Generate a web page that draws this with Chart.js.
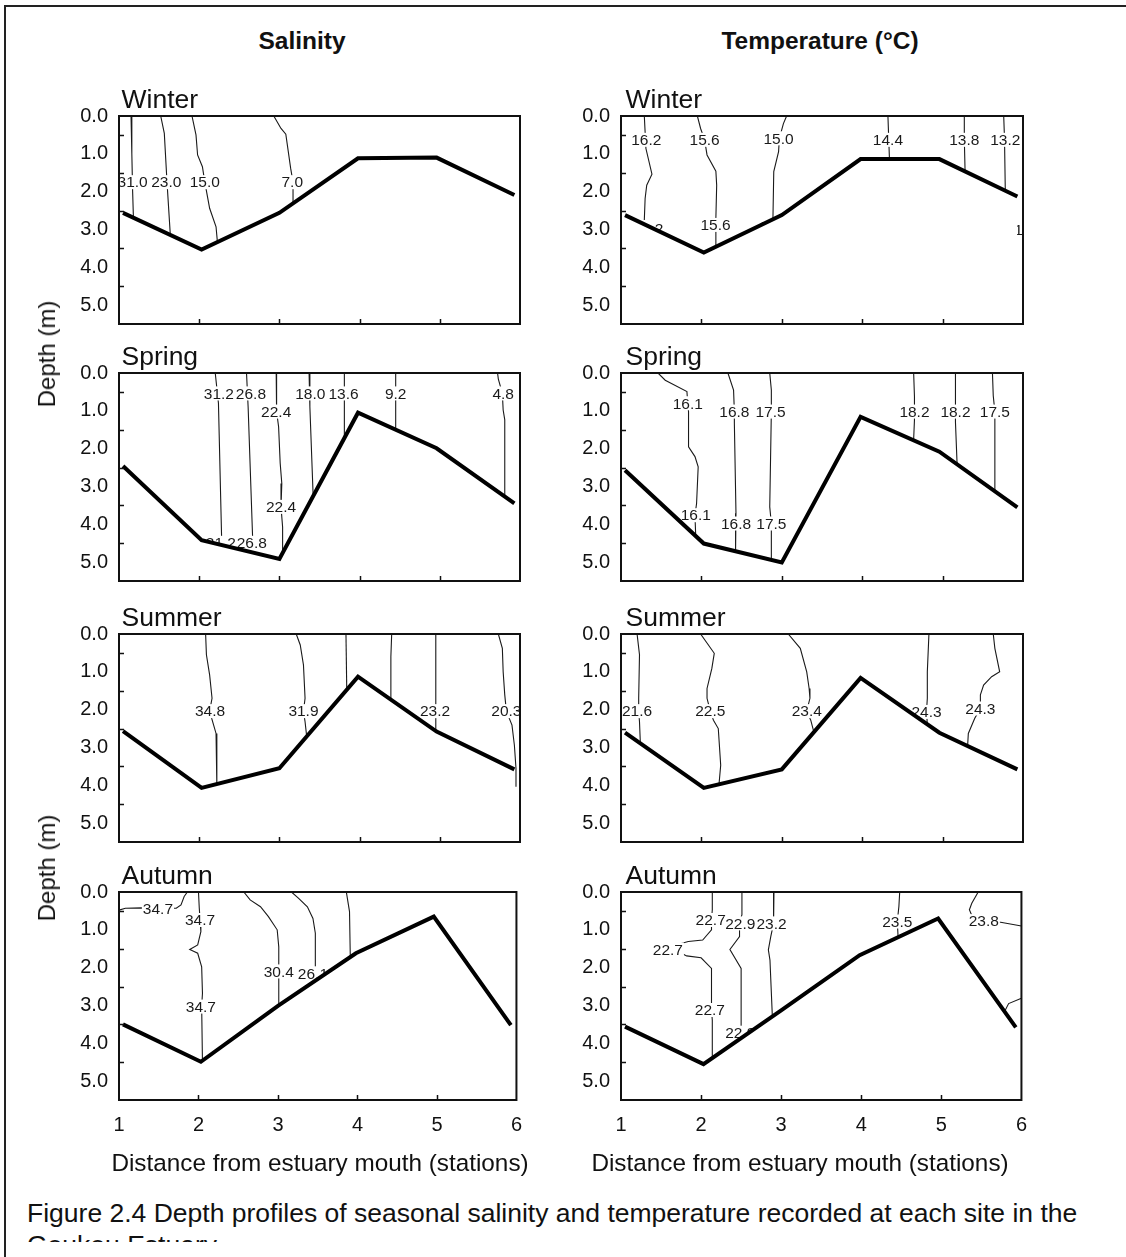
<!DOCTYPE html>
<html>
<head>
<meta charset="utf-8">
<title>Goukou Estuary depth profiles</title>
<script src="https://cdn.jsdelivr.net/npm/chart.js@4.4.1/dist/chart.umd.min.js"></script>
<style>
  html, body { margin: 0; padding: 0; background: #fff; }
  #page { position: relative; width: 1126px; height: 1257px; overflow: hidden; background: #fff;
          font-family: 'Liberation Sans', Arial, Helvetica, sans-serif; color: #111; }
  #frame { position: absolute; left: 4px; top: 5px; width: 1300px; height: 1400px;
           border-left: 2px solid #222; border-top: 2px solid #222; }
  .txt { position: absolute; white-space: nowrap; }
  .panel { position: absolute; }
  #caption { position: absolute; left: 27px; top: 1197px; width: 1095px; height: 45px; overflow: hidden;
             font-size: 26.5px; line-height: 32px; white-space: nowrap; }
</style>
</head>
<body>
<div id="page">
  <div id="frame"></div>
  <div id="caption">Figure 2.4 Depth profiles of seasonal salinity and temperature recorded at each site in the<br>Goukou Estuary</div>
</div>
<script>
// ---------------------------------------------------------------------------
// Data
// ---------------------------------------------------------------------------
const stations = [1, 2, 3, 4, 5, 6];
const depthTicks = [0, 1, 2, 3, 4, 5];
const depthMax = 5.5;
const seasons = ['Winter', 'Spring', 'Summer', 'Autumn'];
const columnTitles = ['Salinity', 'Temperature (\u00B0C)'];
const depthTitle = 'Depth (m)';
const distanceTitle = 'Distance from estuary mouth (stations)';

// Along-channel position of each bed sounding
const bedStations = [1.05, 2.03, 3.0, 3.98, 4.96, 5.93];

// Bed depth (m) under each sounding, salinity sections
const bedSalWinter = [2.56, 3.53, 2.56, 1.12, 1.10, 2.09];
const bedSalSpring = [2.46, 4.42, 4.92, 1.05, 1.99, 3.45];
const bedSalSummer = [2.57, 4.07, 3.55, 1.13, 2.58, 3.58];
const bedSalAutumn = [3.50, 4.49, 3.01, 1.62, 0.65, 3.52];
// Bed depth (m), temperature sections
const bedTmpWinter = [2.62, 3.61, 2.62, 1.14, 1.14, 2.13];
const bedTmpSpring = [2.57, 4.51, 5.01, 1.16, 2.08, 3.55];
const bedTmpSummer = [2.61, 4.07, 3.58, 1.16, 2.61, 3.58];
const bedTmpAutumn = [3.56, 4.55, 3.13, 1.67, 0.70, 3.58];

// Isolines: value, traced path [station, depth], and where the value is printed
const salWinter = [
  { value: 31.0, path: [[1.15,0],[1.16,1.0],[1.17,2.0],[1.18,2.7]], at: [[1.17,1.75]] },
  { value: 23.0, path: [[1.52,0],[1.565,0.46],[1.6,1.8],[1.64,3.15]], at: [[1.59,1.75]] },
  { value: 15.0, path: [[1.91,0],[1.96,0.5],[1.98,1.03],[2.04,1.34],[2.07,1.75],[2.13,2.44],[2.21,2.93],[2.23,3.4]], at: [[2.07,1.75]] },
  { value: 7.0,  path: [[2.93,0],[3.02,0.33],[3.08,0.48],[3.14,1.38],[3.17,1.75],[3.17,2.35]], at: [[3.16,1.75]] }
];
const salSpring = [
  { value: 31.2, path: [[2.2,0],[2.24,0.8],[2.28,4.4]], at: [[2.245,0.54],[2.27,4.49]] },
  { value: 26.8, path: [[2.59,0],[2.61,0.89],[2.67,4.6]], at: [[2.645,0.54],[2.655,4.49]] },
  { value: 22.4, path: [[2.96,0],[2.96,0.36],[2.97,1.02],[2.99,1.42],[3.01,2.39],[3.03,2.92],[3.02,3.54],[3.04,4.07],[3.04,4.95]], at: [[2.96,1.02],[3.02,3.54]] },
  { value: 18.0, path: [[3.37,0],[3.38,0.89],[3.42,3.2]], at: [[3.385,0.54]] },
  { value: 13.6, path: [[3.81,0],[3.81,1.7]], at: [[3.8,0.54]] },
  { value: 9.2,  path: [[4.45,0],[4.45,1.5]], at: [[4.45,0.54]] },
  { value: 4.8,  path: [[5.72,0],[5.73,0.16],[5.78,0.54],[5.79,0.98],[5.81,1.24],[5.81,3.3]], at: [[5.79,0.54]] }
];
const salSummer = [
  { value: 34.8, path: [[2.08,0],[2.09,0.55],[2.13,1.08],[2.16,1.7],[2.13,2.04],[2.18,2.41],[2.21,2.63],[2.22,4.0]], at: [[2.135,2.04]] },
  { value: 31.9, path: [[3.21,0],[3.26,0.29],[3.3,0.82],[3.32,1.7],[3.3,2.04],[3.32,2.32],[3.34,2.7]], at: [[3.3,2.04]] },
  { value: 29.0, path: [[3.83,0],[3.84,1.5]], at: [[3.84,2.04]] },
  { value: 26.1, path: [[4.4,0],[4.39,0.6],[4.39,1.8]], at: [[4.39,2.04]] },
  { value: 23.2, path: [[4.95,0],[4.95,1.75],[4.95,2.6]], at: [[4.94,2.04]] },
  { value: 20.3, path: [[5.73,0],[5.78,0.38],[5.79,1.0],[5.81,1.61],[5.83,2.04],[5.9,2.41],[5.93,2.94],[5.95,3.55],[5.95,4.04]], at: [[5.83,2.04]] }
];
const salAutumn = [
  { value: 34.7, path: [[1.0,0.48],[1.08,0.43],[1.28,0.42],[1.49,0.43],[1.72,0.43],[1.78,0.34],[1.82,0.12],[1.86,0]], at: [[1.49,0.43]] },
  { value: 34.7, path: [[2.0,0],[2.01,0.43],[2.02,0.74],[2.03,1.05],[1.99,1.4],[1.89,1.52],[1.99,1.62],[2.04,1.98],[2.05,2.68],[2.04,3.03],[2.05,4.5]], at: [[2.02,0.74],[2.03,3.03]] },
  { value: 30.4, path: [[2.57,0],[2.65,0.21],[2.78,0.39],[2.88,0.65],[2.99,1.0],[3.01,1.45],[3.01,2.1],[3.01,3.05]], at: [[3.01,2.1]] },
  { value: 26.1, path: [[3.17,0],[3.26,0.17],[3.37,0.39],[3.44,0.7],[3.47,1.09],[3.47,1.84],[3.47,2.3]], at: [[3.44,2.15]] },
  { value: 21.8, path: [[3.86,0],[3.9,0.52],[3.91,1.75]], at: [[3.91,2.3]] }
];
const tmpWinter = [
  { value: 16.2, path: [[1.29,0],[1.31,0.86],[1.385,1.54],[1.32,1.83],[1.30,2.18],[1.29,2.75]], at: [[1.315,0.63],[1.34,2.97]] },
  { value: 15.6, path: [[1.95,0],[1.99,0.33],[2.04,0.63],[2.07,1.03],[2.18,1.46],[2.19,1.83],[2.18,2.71],[2.18,3.5]], at: [[2.04,0.63],[2.175,2.88]] },
  { value: 15.0, path: [[3.06,0],[3.02,0.2],[2.97,0.59],[2.96,0.94],[2.9,1.47],[2.89,2.7]], at: [[2.96,0.59],[2.9,2.92]] },
  { value: 14.4, path: [[4.32,0],[4.33,0.6],[4.34,1.2]], at: [[4.32,0.63]] },
  { value: 13.8, path: [[5.27,0],[5.27,0.6],[5.28,1.5]], at: [[5.27,0.63]] },
  { value: 13.2, path: [[5.76,0],[5.77,0.6],[5.78,2.0]], at: [[5.78,0.63],[6.08,3.0]] }
];
const tmpSpring = [
  { value: 16.1, path: [[1.46,0],[1.55,0.19],[1.82,0.49],[1.83,0.8],[1.84,1.02],[1.84,1.95],[1.92,2.21],[1.96,2.48],[1.94,3.45],[1.92,3.76],[1.93,4.35]], at: [[1.83,0.8],[1.93,3.76]] },
  { value: 16.8, path: [[2.33,0],[2.4,0.45],[2.41,1.02],[2.41,1.33],[2.43,3.71],[2.43,3.98],[2.42,4.7]], at: [[2.41,1.02],[2.43,3.98]] },
  { value: 17.5, path: [[2.85,0],[2.87,0.45],[2.87,1.02],[2.85,3.54],[2.87,3.98],[2.87,4.95]], at: [[2.86,1.02],[2.87,3.98]] },
  { value: 18.2, path: [[4.64,0],[4.65,0.63],[4.65,1.24],[4.64,1.75]], at: [[4.65,1.02]] },
  { value: 18.2, path: [[5.16,0],[5.16,0.6],[5.16,1.02],[5.16,1.3],[5.18,2.4]], at: [[5.16,1.02]] },
  { value: 17.5, path: [[5.62,0],[5.63,0.6],[5.65,1.02],[5.65,1.3],[5.65,3.1]], at: [[5.65,1.02]] }
];
const tmpSummer = [
  { value: 21.6, path: [[1.2,0],[1.23,0.55],[1.22,1.7],[1.22,2.04],[1.23,2.32],[1.24,2.85]], at: [[1.2,2.04]] },
  { value: 22.5, path: [[1.99,0],[2.16,0.51],[2.13,0.91],[2.07,1.44],[2.07,1.7],[2.11,2.04],[2.15,2.28],[2.21,2.5],[2.24,3.47],[2.22,3.95]], at: [[2.11,2.04]] },
  { value: 23.4, path: [[3.08,0],[3.23,0.38],[3.31,1.0],[3.34,1.44],[3.35,1.7],[3.31,2.04],[3.36,2.28],[3.4,2.6]], at: [[3.31,2.04]] },
  { value: 24.3, path: [[4.83,0],[4.81,1.0],[4.81,1.7],[4.8,2.04],[4.81,2.4]], at: [[4.8,2.06]] },
  { value: 24.3, path: [[5.63,0],[5.65,0.38],[5.71,1.0],[5.61,1.13],[5.51,1.35],[5.47,1.61],[5.47,1.97],[5.4,2.23],[5.32,2.63],[5.31,3.0]], at: [[5.47,1.97]] }
];
const tmpAutumn = [
  { value: 22.7, path: [[2.14,0],[2.14,0.47],[2.13,0.74],[2.13,1.0],[2.02,1.27],[1.84,1.31],[1.6,1.45],[1.82,1.69],[2.0,1.74],[2.13,2.02],[2.13,2.86],[2.13,3.12],[2.14,3.39],[2.14,4.5]], at: [[2.12,0.74],[1.585,1.52],[2.11,3.12]] },
  { value: 22.9, path: [[2.51,0],[2.51,0.6],[2.48,0.83],[2.48,1.18],[2.36,1.52],[2.5,2.02],[2.5,3.43],[2.5,3.9]], at: [[2.49,0.83],[2.49,3.72]] },
  { value: 23.2, path: [[2.91,0],[2.91,0.47],[2.9,0.83],[2.87,1.18],[2.84,1.53],[2.86,1.8],[2.89,3.3]], at: [[2.88,0.83]] },
  { value: 23.5, path: [[4.48,0],[4.47,0.38],[4.45,0.78],[4.46,1.2]], at: [[4.45,0.78]] },
  { value: 23.8, path: [[5.46,0],[5.38,0.3],[5.35,0.47],[5.4,0.72],[5.6,0.78],[5.74,0.8],[6.0,0.9]], at: [[5.53,0.77]] },
  { value: 24.1, path: [[5.78,3.2],[5.84,2.95],[6.0,2.81]], at: [] }
];

// ---------------------------------------------------------------------------
// Layout
// ---------------------------------------------------------------------------
const FONT = "'Liberation Sans', Arial, Helvetica, sans-serif";
const ROW_TOP = [116, 373, 634, 892];
const PLOT_H = 208;
const PLOT_W = [401, 402];
const PAD_TOP = 20;
const XAXIS_H = 45;
const COLUMNS = [
  { left: 0,   width: 535, axisW: 119, titleX: 302, distX: 320, seasonX: 121.5 },
  { left: 530, width: 510, axisW: 91,  titleX: 820, distX: 800, seasonX: 625.5 }
];

const panels = [
  { col: 0, row: 0, bed: bedSalWinter, iso: salWinter },
  { col: 0, row: 1, bed: bedSalSpring, iso: salSpring },
  { col: 0, row: 2, bed: bedSalSummer, iso: salSummer },
  { col: 0, row: 3, bed: bedSalAutumn, iso: salAutumn },
  { col: 1, row: 0, bed: bedTmpWinter, iso: tmpWinter },
  { col: 1, row: 1, bed: bedTmpSpring, iso: tmpSpring },
  { col: 1, row: 2, bed: bedTmpSummer, iso: tmpSummer },
  { col: 1, row: 3, bed: bedTmpAutumn, iso: tmpAutumn }
];

Chart.defaults.font.family = FONT;
Chart.defaults.color = '#111';
Chart.defaults.animation = false;

const page = document.getElementById('page');

// Absolutely placed text, centred on (x, cy) unless anchored left
function addText(text, x, cy, size, opts = {}) {
  const d = document.createElement('div');
  d.className = 'txt';
  d.textContent = text;
  d.style.fontSize = size + 'px';
  d.style.lineHeight = size + 'px';
  if (opts.bold) d.style.fontWeight = 'bold';
  d.style.top = (cy - size / 2) + 'px';
  d.style.left = x + 'px';
  let tf = opts.anchorLeft ? '' : 'translateX(-50%)';
  if (opts.rotate) {
    d.style.transformOrigin = '50% 50%';
    tf = 'translateX(-50%) rotate(-90deg)';
  }
  d.style.transform = tf;
  page.appendChild(d);
  return d;
}

// Contour labels, plot frame and inward ticks
function sectionDecor(iso) {
  return {
    id: 'sectionDecor',
    afterDatasetDraw(chart, args) {
      // index 1 is the last isoline painted before the bed profile on top
      if (args.index !== 1) return;
      const { ctx, chartArea: a, scales: { x, y } } = chart;
      ctx.save();
      ctx.beginPath();
      ctx.rect(a.left, a.top, a.right - a.left, a.bottom - a.top);
      ctx.clip();
      ctx.font = '15.5px ' + FONT;
      ctx.textAlign = 'center';
      ctx.textBaseline = 'middle';
      iso.forEach(c => {
        const txt = c.value.toFixed(1);
        const w = ctx.measureText(txt).width;
        c.at.forEach(([sx, d]) => {
          const px = x.getPixelForValue(sx);
          const py = y.getPixelForValue(d);
          ctx.fillStyle = '#fff';
          ctx.fillRect(px - w / 2 - 1, py - 7, w + 2, 14);
          ctx.fillStyle = '#1a1a1a';
          ctx.fillText(txt, px, py + 1);
        });
      });
      ctx.restore();
    },
    afterDraw(chart) {
      const { ctx, chartArea: a, scales: { x, y } } = chart;
      ctx.save();
      ctx.strokeStyle = '#111';
      ctx.lineWidth = 1.5;
      ctx.beginPath();
      depthTicks.forEach(v => {
        const py = Math.round(y.getPixelForValue(v + 0.5)) + 0.5;
        if (v + 0.5 < depthMax) { ctx.moveTo(a.left, py); ctx.lineTo(a.left + 5, py); }
      });
      stations.slice(1, -1).forEach(s => {
        const px = Math.round(x.getPixelForValue(s)) + 0.5;
        ctx.moveTo(px, a.bottom); ctx.lineTo(px, a.bottom - 5);
      });
      ctx.stroke();
      ctx.lineWidth = 2;
      ctx.strokeRect(a.left, a.top, a.right - a.left, a.bottom - a.top);
      ctx.restore();
    }
  };
}

function buildPanel(p) {
  const c = COLUMNS[p.col];
  const isBottom = p.row === ROW_TOP.length - 1;
  let h = PAD_TOP + PLOT_H + XAXIS_H;
  const wrap = document.createElement('div');
  wrap.className = 'panel';
  wrap.style.left = c.left + 'px';
  wrap.style.top = (ROW_TOP[p.row] - PAD_TOP) + 'px';
  wrap.style.width = c.width + 'px';
  wrap.style.height = h + 'px';
  const cv = document.createElement('canvas');
  cv.width = c.width;
  cv.height = h;
  wrap.appendChild(cv);
  page.appendChild(wrap);

  const datasets = [
    {
      label: 'Bed',
      data: bedStations.map((s, i) => ({ x: s, y: p.bed[i] })),
      borderColor: '#000',
      borderWidth: 4,
      borderJoinStyle: 'miter',
      pointRadius: 0,
      fill: { value: depthMax },
      backgroundColor: '#fff'
    },
    ...p.iso.map(iso => ({
      label: iso.value.toFixed(1),
      data: iso.path.map(([s, d]) => ({ x: s, y: d })),
      borderColor: '#1a1a1a',
      borderWidth: 1.1,
      pointRadius: 0,
      fill: false
    }))
  ];

  const chart = new Chart(cv, {
    type: 'line',
    data: { datasets },
    options: {
      responsive: false,
      maintainAspectRatio: false,
      animation: false,
      events: [],
      layout: { padding: { top: PAD_TOP, right: c.width - c.axisW - PLOT_W[p.col], bottom: 0, left: 0 } },
      plugins: { legend: { display: false }, tooltip: { enabled: false } },
      elements: { line: { tension: 0 } },
      scales: {
        x: {
          type: 'linear',
          min: stations[0],
          max: stations[stations.length - 1],
          afterBuildTicks: s => { s.ticks = stations.map(v => ({ value: v })); },
          afterFit: s => { s.height = XAXIS_H; },
          grid: { display: false, drawTicks: false },
          border: { display: false },
          ticks: { display: isBottom, padding: 13, autoSkip: false, maxRotation: 0,
                   font: { size: 20 }, color: '#111', callback: v => String(v) }
        },
        y: {
          type: 'linear',
          reverse: true,
          min: 0,
          max: depthMax,
          afterBuildTicks: s => { s.ticks = depthTicks.map(v => ({ value: v })); },
          afterFit: s => { s.width = c.axisW; },
          grid: { display: false, drawTicks: false },
          border: { display: false },
          ticks: { padding: 11, autoSkip: false, font: { size: 20 }, color: '#111',
                   callback: v => Number(v).toFixed(1) }
        }
      }
    },
    plugins: [sectionDecor(p.iso)]
  });

  // Keep the plotting box at its intended place and height on the page
  const a = chart.chartArea;
  const dTop = a.top - PAD_TOP;
  const dH = PLOT_H - (a.bottom - a.top);
  if (Math.abs(dTop) > 0.01 || Math.abs(dH) > 0.01) {
    h += dH;
    wrap.style.top = (ROW_TOP[p.row] - PAD_TOP - dTop) + 'px';
    wrap.style.height = h + 'px';
    chart.resize(c.width, h);
  }

  addText(seasons[p.row], c.seasonX, ROW_TOP[p.row] - 17, 26.5, { anchorLeft: true });
}

panels.forEach(buildPanel);

// Column headings, axis titles
COLUMNS.forEach((c, i) => {
  addText(columnTitles[i], c.titleX, 41, 24.5, { bold: true });
  addText(distanceTitle, c.distX, 1163, 24.3);
});
addText(depthTitle, 47, 354, 24, { rotate: true });
addText(depthTitle, 47, 868, 24, { rotate: true });
</script>
</body>
</html>
